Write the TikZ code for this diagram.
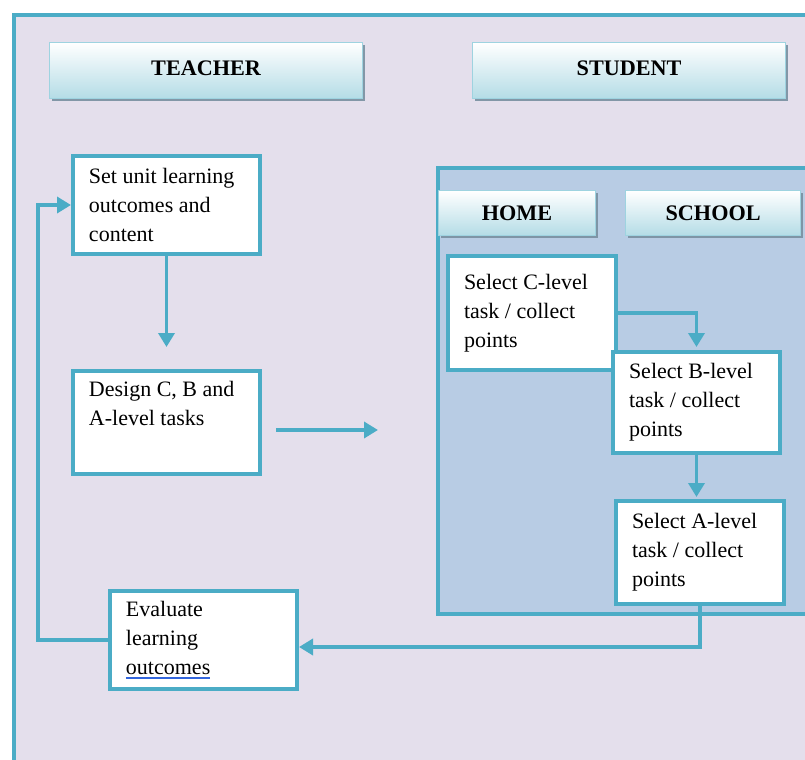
\documentclass[tikz,border=0pt]{standalone}
\usepackage{fontspec}
\setmainfont{Liberation Serif}
\usetikzlibrary{arrows.meta,shadows}
\definecolor{ramme}{HTML}{4BACC6}
\definecolor{lavendel}{HTML}{E4DFEC}
\definecolor{elevfelt}{HTML}{B8CCE4}
\definecolor{hovedbund}{HTML}{B4DCE6}
\definecolor{hovedkant}{HTML}{9ED3E0}
\definecolor{skygge}{HTML}{7890A0}
\definecolor{stave}{HTML}{3366DD}
\tikzset{
  taskbox/.style={draw=ramme, line width=2pt, fill=white, anchor=north west,
    align=flush left, inner xsep=8pt, font=\fontsize{11}{14.5}\selectfont},
  headbox/.style={draw=hovedkant, line width=0.6pt, top color=white, bottom color=hovedbund,
    anchor=north west, font=\bfseries\fontsize{11.1}{13}\selectfont,
    drop shadow={shadow xshift=1pt, shadow yshift=-1.2pt, fill=skygge, opacity=0.9}},
  flow/.style={draw=ramme, line width=1.8pt, -{Triangle[width=8pt,length=7pt]}},
}
\begin{document}
\begin{tikzpicture}[x=0.5pt,y=-0.5pt]
  \useasboundingbox (0,0) rectangle (805,760);
  \clip (0,0) rectangle (805,760);
  %ramme og elevfelt
	\draw[ramme, line width=2pt, fill=lavendel] (14,15) rectangle (840,800);
	\draw[ramme, line width=2pt, fill=elevfelt] (438,168) rectangle (840,614);

  %overskrifter
	\node[headbox, minimum width=156.5pt, minimum height=28pt] (teacher) at (49,42) {\raisebox{2pt}{TEACHER}};
	\node[headbox, minimum width=156.5pt, minimum height=28pt] (student) at (472,42) {\raisebox{2pt}{STUDENT}};
	\node[headbox, minimum width=78.5pt, minimum height=22.5pt] (home) at (438,190) {HOME};
	\node[headbox, minimum width=87.5pt, minimum height=22.5pt] (school) at (625,190) {SCHOOL};

  %laererens trin
	\node[taskbox, minimum width=93.5pt, minimum height=49pt, text width=77.5pt] (set) at (71,154)
	  {Set unit learning\\outcomes and\\content};
	\node[taskbox, minimum width=93.5pt, minimum height=51.5pt, text width=77.5pt] (design) at (71,369)
	  {Design C, B and\\A-level tasks\\ \strut};
	\node[taskbox, minimum width=93.5pt, minimum height=49pt, text width=77.5pt] (eval) at (108,589)
	  {Evaluate\\learning\\\leavevmode\rlap{\textcolor{stave}{\rule[-2pt]{42pt}{0.6pt}}}outcomes};

  %elevens trin
	\node[taskbox, minimum width=84pt, minimum height=57pt, text width=68pt] (clevel) at (446,254)
	  {Select C-level\\task / collect\\points};
	\node[taskbox, minimum width=83.5pt, minimum height=50.5pt, text width=67.5pt] (blevel) at (611,350)
	  {Select B-level\\task / collect\\points};
	\node[taskbox, minimum width=84pt, minimum height=51.5pt, text width=68pt] (alevel) at (614,499)
	  {Select A-level\\task / collect\\points};

  %pile
	\coordinate (handoff) at (378,430);
	\draw[flow, shorten >=11pt] (set.south) -- (design.north);
	\draw[flow, shorten <=7pt] (design.east |- handoff) -- (handoff);
	\draw[flow, shorten >=1.5pt] (clevel.east) -| (blevel.north);
	\draw[flow, shorten >=1pt] (blevel.south) -- (blevel.south |- alevel.north);
	\draw[flow] (alevel.south) |- ([yshift=-3.5pt]eval.east);
	\draw[flow] (eval.west) -- ++(-70,0) |- (set.west);
\end{tikzpicture}
\end{document}
